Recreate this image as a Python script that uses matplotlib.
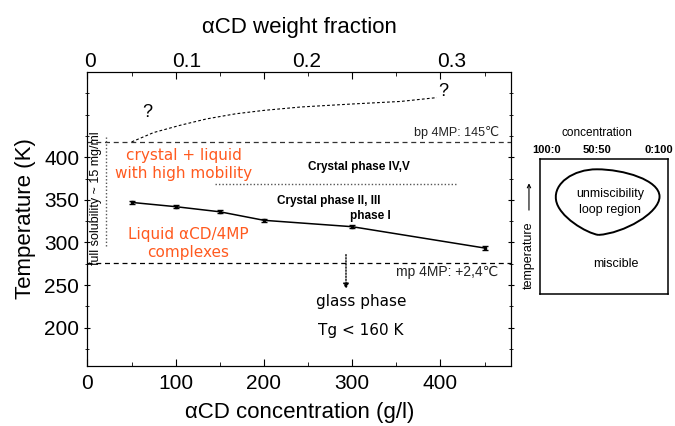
import numpy as np
import matplotlib
matplotlib.use("Agg")
import matplotlib.pyplot as plt
from matplotlib.path import Path
from matplotlib.patches import PathPatch
from matplotlib.transforms import blended_transform_factory

plt.rcParams['font.family'] = ['Liberation Sans', 'DejaVu Sans']

# measured phase line (alpha-CD concentration in g/l, temperature in K)
conc = [50, 100, 150, 200, 300, 450]
temp = [347, 342, 336, 326, 318.5, 293.5]
temp_err = [2, 2, 2, 2, 2, 2]

# speculative upper boundary (dashed, with "?")
upper_conc = [50, 75, 105, 135, 168, 200, 242, 300, 355, 396]
upper_temp = [418, 429, 437.5, 445, 451, 455, 459, 462.5, 465.5, 470]

bp_4mp = 418.0     # 145 C
mp_4mp = 275.5     # +2.4 C
solubility_conc = 21
solubility_range = [296, 425]
crystal_iv_temp = 368.5
crystal_iv_range = [145, 420]
glass_arrow_x = 293
glass_arrow_range = [289, 242]

# top axis: weight fraction labels and where they sit on the g/l scale
wf_labels = ['0', '0.1', '0.2', '0.3']
wf_pos = [3, 112, 248, 413]

orange = '#ff5a1f'
comic = ['DejaVu Sans']

fig = plt.figure(figsize=(6.75, 4.26), dpi=100)
ax = fig.add_axes([0.1296, 0.1408, 0.6274, 0.6901])

ax.errorbar(conc, temp, yerr=temp_err, color='black', lw=1.1,
            capsize=2, capthick=1, elinewidth=1, marker='s', ms=2)
ax.plot(upper_conc, upper_temp, color='black', lw=0.8, ls=(0, (2.5, 2)))
ax.axhline(bp_4mp, color='#333333', lw=0.9, ls=(0, (4, 3)))
ax.axhline(mp_4mp, color='black', lw=0.9, ls=(0, (4, 3)))
ax.plot([solubility_conc] * 2, solubility_range, color='#555555', lw=1, ls=(0, (1, 1.5)))
ax.plot(crystal_iv_range, [crystal_iv_temp] * 2, color='#555555', lw=1, ls=(0, (1, 1.5)))
ax.annotate('', xy=(glass_arrow_x, glass_arrow_range[1]), xytext=(glass_arrow_x, glass_arrow_range[0]),
            arrowprops=dict(arrowstyle='-|>', color='black', lw=1, ls=(0, (1, 1.2)),
                            mutation_scale=8))

ax.set_xlim(0, 480)
ax.set_ylim(155, 500)
ax.set_xticks([0, 100, 200, 300, 400])
ax.set_xticks([50, 150, 250, 350, 450], minor=True)
ax.set_yticks([200, 250, 300, 350, 400])
ax.set_yticks([175, 225, 275, 325, 375, 425, 450, 475], minor=True)
ax.tick_params(axis='x', which='both', direction='in', top=False, labelsize=15, pad=6)
ax.tick_params(axis='y', which='both', direction='inout', right=True, labelsize=15)
ax.tick_params(which='major', length=5)
ax.tick_params(which='minor', length=3)
ax.set_xlabel('αCD concentration (g/l)', fontsize=16, labelpad=6)
ax.set_ylabel('Temperature (K)', fontsize=16, labelpad=6)

# top axis
ax2 = ax.twiny()
ax2.set_xlim(0, 480)
ax2.set_xticks([0, 100, 200, 300, 400])
ax2.set_xticks([50, 150, 250, 350, 450], minor=True)
ax2.tick_params(axis='x', which='both', direction='in', labeltop=False)
ax2.tick_params(which='major', length=5)
ax2.tick_params(which='minor', length=3)
top_tr = blended_transform_factory(ax.transData, ax.transAxes)
for lab, pos in zip(wf_labels, wf_pos):
    ax.text(pos, 1.036, lab, transform=top_tr, ha='center', va='center', fontsize=15)
ax.text(0.5, 1.15, 'αCD weight fraction', transform=ax.transAxes, ha='center',
        va='center', fontsize=16)

# annotations
ax.text(68, 453, '?', fontsize=13, ha='center', va='center')
ax.text(403, 477, '?', fontsize=13, ha='center', va='center')
ax.text(466, 421, 'bp 4MP: 145℃', fontsize=9, ha='right', va='bottom', color='#222222')
ax.text(466, 273, 'mp 4MP: +2,4℃', fontsize=10, ha='right', va='top', color='#222222')
ax.text(10, 352, 'full solubility ~ 15 mg/ml', fontsize=9, rotation=90,
        ha='center', va='center')
ax.text(109, 402, 'crystal + liquid', color=orange, fontsize=11, family=comic,
        ha='center', va='center')
ax.text(109, 381, 'with high mobility', color=orange, fontsize=11, family=comic,
        ha='center', va='center')
ax.text(114, 309.5, 'Liquid αCD/4MP', color=orange, fontsize=11, family=comic,
        ha='center', va='center')
ax.text(114, 288.5, 'complexes', color=orange, fontsize=11, family=comic,
        ha='center', va='center')
ax.text(308, 389, 'Crystal phase IV,V', fontsize=8.5, weight='bold', ha='center', va='center')
ax.text(273, 349, 'Crystal phase II, III', fontsize=8.5, weight='bold', ha='center', va='center')
ax.text(321, 330.5, 'phase I', fontsize=8.5, weight='bold', ha='center', va='center')
ax.text(310, 231, 'glass phase', fontsize=11, family=comic, ha='center', va='center')
ax.text(310, 197, 'Tg < 160 K', fontsize=11, family=comic, ha='center', va='center')

# schematic inset
loop_pts = [(0.456, 0.437), (0.365, 0.449), (0.143, 0.573), (0.125, 0.696),
            (0.104, 0.82), (0.26, 0.923), (0.443, 0.923),
            (0.651, 0.923), (0.932, 0.844), (0.932, 0.721),
            (0.932, 0.598), (0.651, 0.449), (0.456, 0.437)]
loop_codes = [Path.MOVETO] + [Path.CURVE4] * 12

ins = fig.add_axes([0.8, 0.31, 0.19, 0.317])
ins.set_xlim(0, 1)
ins.set_ylim(0, 1)
ins.set_xticks([])
ins.set_yticks([])
for s in ins.spines.values():
    s.set_linewidth(1.1)
ins.add_patch(PathPatch(Path(loop_pts, loop_codes), facecolor='none', edgecolor='black', lw=1.4))
ins.text(0.547, 0.739, 'unmiscibility', fontsize=9, ha='center', va='center')
ins.text(0.547, 0.622, 'loop region', fontsize=9, ha='center', va='center')
ins.text(0.594, 0.222, 'miscible', fontsize=9, ha='center', va='center')
ins.text(0.443, 1.19, 'concentration', fontsize=8.5, ha='center', va='center', clip_on=False)
for lab, fx in zip(['100:0', '50:50', '0:100'], [0.052, 0.443, 0.925]):
    ins.text(fx, 1.067, lab, fontsize=8, weight='bold', ha='center', va='center', clip_on=False)
ins.text(-0.086, 0.289, 'temperature', fontsize=9, rotation=90, ha='center', va='center',
         clip_on=False)
ins.annotate('', xy=(-0.086, 0.84), xytext=(-0.086, 0.6), xycoords='axes fraction',
             arrowprops=dict(arrowstyle='->', color='black', lw=0.8, mutation_scale=6))

fig.savefig('out.png', dpi=100)
